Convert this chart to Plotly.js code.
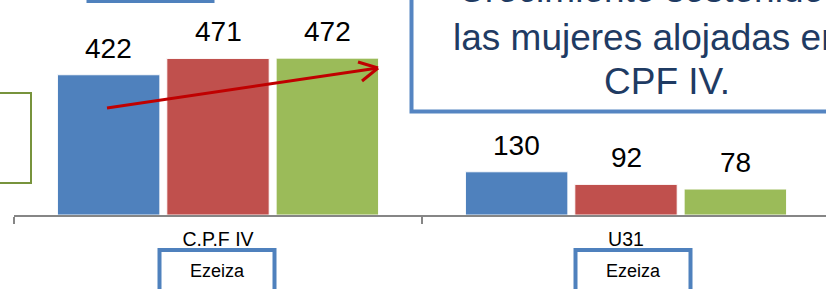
<!DOCTYPE html>
<html>
<head>
<meta charset="utf-8">
<script src="https://cdn.plot.ly/plotly-3.0.1.min.js"></script>
<style>html,body{margin:0;padding:0;background:#fff;}#chart{width:826px;height:289px;}</style>
</head>
<body>
<div id="chart"></div>
<script>
// ---- data ----
const categories = ["C.P.F IV", "U31"];
const seriesNames = ["Serie 1", "Serie 2", "Serie 3"];
const series1 = [422, 130];
const series2 = [471, 92];
const series3 = [472, 78];
const seriesColors = ["#4F81BD", "#C0504D", "#9BBB59"];
const boxLabels = ["Ezeiza", "Ezeiza"];
const calloutLines = ["Crecimiento sostenido de", "las mujeres alojadas en el", "CPF IV."];

// ---- layout helpers ----
const W = 826, H = 289;
const px = v => v / W;
const py = v => 1 - v / H;
const BARGAP = 0.196;
const allSeries = [series1, series2, series3];

const traces = allSeries.map((vals, i) => ({
  type: "bar",
  name: seriesNames[i],
  x: categories,
  y: vals,
  marker: { color: seriesColors[i], line: { color: "rgba(255,255,255,0.9)", width: 1 } },
  hoverinfo: "skip"
}));

// value labels above bars, placed via category index + group offset
const annotations = [];
const slot = (1 - BARGAP) / allSeries.length;
allSeries.forEach((vals, i) => {
  vals.forEach((v, c) => {
    annotations.push({
      xref: "x", yref: "y",
      x: c + (i - (allSeries.length - 1) / 2) * slot,
      y: v, yanchor: "bottom", xanchor: "center",
      yshift: 9,
      text: String(v), showarrow: false,
      font: { family: "Liberation Sans, Arial, sans-serif", size: 28, color: "#000" }
    });
  });
});

// callout text, one annotation per line
const calloutBottoms = [12, 60, 104];
calloutLines.forEach((t, k) => {
  annotations.push({
    xref: "paper", yref: "paper",
    x: px(667), y: py(calloutBottoms[k]), xanchor: "center", yanchor: "bottom",
    text: t, showarrow: false, align: "center",
    font: { family: "Liberation Sans, Arial, sans-serif", size: 37, color: "#1F3B63" }
  });
});

// Ezeiza labels
const ezeizaX = [217, 633];
boxLabels.forEach((t, k) => {
  annotations.push({
    xref: "paper", yref: "paper",
    x: px(ezeizaX[k]), y: py(271), xanchor: "center", yanchor: "middle",
    text: t, showarrow: false,
    font: { family: "Liberation Sans, Arial, sans-serif", size: 18, color: "#000" }
  });
});

const shapes = [
  // top-left blue box (only bottom edge visible)
  { type: "rect", xref: "paper", yref: "paper", x0: px(88), x1: px(213), y0: py(-30), y1: py(1.5),
    line: { color: "#4F81BD", width: 3 }, fillcolor: "rgba(0,0,0,0)" },
  // left green box
  { type: "rect", xref: "paper", yref: "paper", x0: px(-40), x1: px(31), y0: py(183), y1: py(93),
    line: { color: "#77933C", width: 2 }, fillcolor: "rgba(0,0,0,0)" },
  // right callout box
  { type: "rect", xref: "paper", yref: "paper", x0: px(411.5), x1: px(930), y0: py(111.5), y1: py(-40),
    line: { color: "#5585C2", width: 4 }, fillcolor: "rgba(0,0,0,0)" },
  // Ezeiza boxes
  { type: "rect", xref: "paper", yref: "paper", x0: px(159.5), x1: px(274.5), y0: py(300), y1: py(250),
    line: { color: "#4F81BD", width: 4 }, fillcolor: "rgba(0,0,0,0)" },
  { type: "rect", xref: "paper", yref: "paper", x0: px(575.5), x1: px(690.5), y0: py(300), y1: py(250),
    line: { color: "#4F81BD", width: 4 }, fillcolor: "rgba(0,0,0,0)" },
  // red arrow
  { type: "line", xref: "paper", yref: "paper", x0: px(107), y0: py(108), x1: px(378), y1: py(68),
    line: { color: "#C00000", width: 3 } },
  { type: "line", xref: "paper", yref: "paper", x0: px(358), y0: py(62), x1: px(378), y1: py(68),
    line: { color: "#C00000", width: 3 } },
  { type: "line", xref: "paper", yref: "paper", x0: px(362), y0: py(81), x1: px(378), y1: py(68),
    line: { color: "#C00000", width: 3 } }
];

const layout = {
  width: W, height: H,
  margin: { l: 0, r: 0, t: 0, b: 0, pad: 0 },
  paper_bgcolor: "#fff", plot_bgcolor: "#fff",
  showlegend: false,
  barmode: "group",
  bargap: BARGAP,
  bargroupgap: 0.064,
  xaxis: {
    domain: [14 / W, 1],
    range: [-0.5, -0.5 + (W - 14) / 408],
    type: "category",
    showline: true, linecolor: "#868686", linewidth: 1.5,
    ticks: "outside", tickson: "boundaries", ticklen: 7, tickcolor: "#868686", tickwidth: 1.5,
    ticklabelstandoff: 6,
    showgrid: false, zeroline: false,
    tickfont: { family: "Liberation Sans, Arial, sans-serif", size: 19.5, color: "#000" },
    automargin: false, fixedrange: true
  },
  yaxis: {
    domain: [74 / H, 1],
    range: [0, 647],
    visible: false, showgrid: false, zeroline: false, fixedrange: true
  },
  annotations: annotations,
  shapes: shapes,
  font: { family: "Liberation Sans, Arial, sans-serif" }
};

Plotly.newPlot("chart", traces, layout, { displayModeBar: false, staticPlot: true });
</script>
</body>
</html>
